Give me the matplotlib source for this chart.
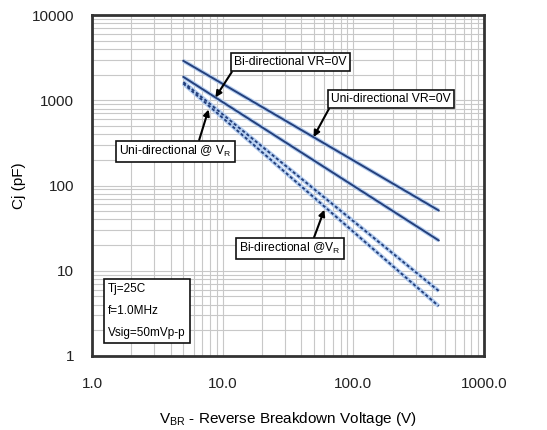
# Junction capacitance vs breakdown voltage chart

import matplotlib
matplotlib.use("Agg")
import matplotlib.pyplot as plt

plt.rcParams['font.family'] = ['Liberation Sans', 'DejaVu Sans']
plt.rcParams['mathtext.fontset'] = 'custom'
plt.rcParams['mathtext.rm'] = 'Liberation Sans'
plt.rcParams['mathtext.default'] = 'regular'

# End points of each curve (V, pF)
vbr = [5, 450]
uni_vr0 = [2900, 51]
bi_vr0 = [1880, 22.7]
uni_vr = [1630, 5.8]
bi_vr = [1570, 3.85]

x_ticks = [1, 10, 100, 1000]
x_tick_labels = ['1.0', '10.0', '100.0', '1000.0']
y_ticks = [1, 10, 100, 1000, 10000]
y_tick_labels = ['1', '10', '100', '1000', '10000']

line_col = '#24407c'
glow_col = '#b4cdf0'

fig = plt.figure(figsize=(5.47, 4.30), dpi=100)
ax = fig.add_axes([0.1682, 0.1721, 0.7166, 0.793])
ax.set_xscale('log')
ax.set_yscale('log')
ax.set_xlim(1, 1000)
ax.set_ylim(1, 10000)

# solid curves (VR = 0V)
for vals in [uni_vr0, bi_vr0]:
    ax.plot(vbr, vals, color=glow_col, lw=3.0, solid_capstyle='butt', zorder=3)
    ax.plot(vbr, vals, color=line_col, lw=1.4, zorder=4)

# dashed curves (@ VR)
for vals in [uni_vr, bi_vr]:
    ax.plot(vbr, vals, color=glow_col, lw=3.0, solid_capstyle='butt', zorder=3)
    ax.plot(vbr, vals, color=line_col, lw=1.4, dashes=(1.6, 1.2), zorder=4)

ax.set_xticks(x_ticks)
ax.set_xticklabels(x_tick_labels)
ax.set_yticks(y_ticks)
ax.set_yticklabels(y_tick_labels)
ax.tick_params(which='both', length=0, labelsize=11, colors='#222222')
ax.tick_params(axis='x', pad=15)
ax.tick_params(axis='y', pad=13)

ax.grid(True, which='major', color='#c8c8c8', lw=0.8)
ax.grid(True, which='minor', color='#c8c8c8', lw=0.8)
ax.set_axisbelow(True)
for sp in ax.spines.values():
    sp.set_linewidth(2)
    sp.set_color('#333333')

ax.set_xlabel('V$_{BR}$ - Reverse Breakdown Voltage (V)', fontsize=11, labelpad=14)
ax.set_ylabel('Cj (pF)', fontsize=11, labelpad=4)

box = dict(boxstyle='square,pad=0.25', fc='white', ec='#111111', lw=1.2)
arrow = dict(arrowstyle='-|>', color='black', lw=1.5, mutation_scale=9, shrinkA=0, shrinkB=0)

ax.annotate('Bi-directional VR=0V', xy=(8.8, 1080), xytext=(33, 2785),
            ha='center', va='center', fontsize=8.7, bbox=box,
            arrowprops=dict(arrow, relpos=(0.0, 0.0)), zorder=6)
ax.annotate('Uni-directional VR=0V', xy=(49.6, 370), xytext=(194, 1035),
            ha='center', va='center', fontsize=8.7, bbox=box,
            arrowprops=dict(arrow, relpos=(0.0, 0.0)), zorder=6)
ax.annotate('Uni-directional @ V$_{R}$', xy=(7.8, 780), xytext=(4.36, 253),
            ha='center', va='center', fontsize=8.7, bbox=box,
            arrowprops=dict(arrow, relpos=(0.7, 1.0)), zorder=6)
ax.annotate('Bi-directional @V$_{R}$', xy=(60, 52), xytext=(32.9, 18.1),
            ha='center', va='center', fontsize=8.7, bbox=box,
            arrowprops=dict(arrow, relpos=(0.72, 1.0)), zorder=6)

ax.text(1.33, 3.4, 'Tj=25C\nf=1.0MHz\nVsig=50mVp-p', ha='left', va='center',
        fontsize=8.5, linespacing=2.1, zorder=6,
        bbox=dict(boxstyle='square,pad=0.35', fc='white', ec='#111111', lw=1.2))

fig.savefig('out.png', dpi=100)
